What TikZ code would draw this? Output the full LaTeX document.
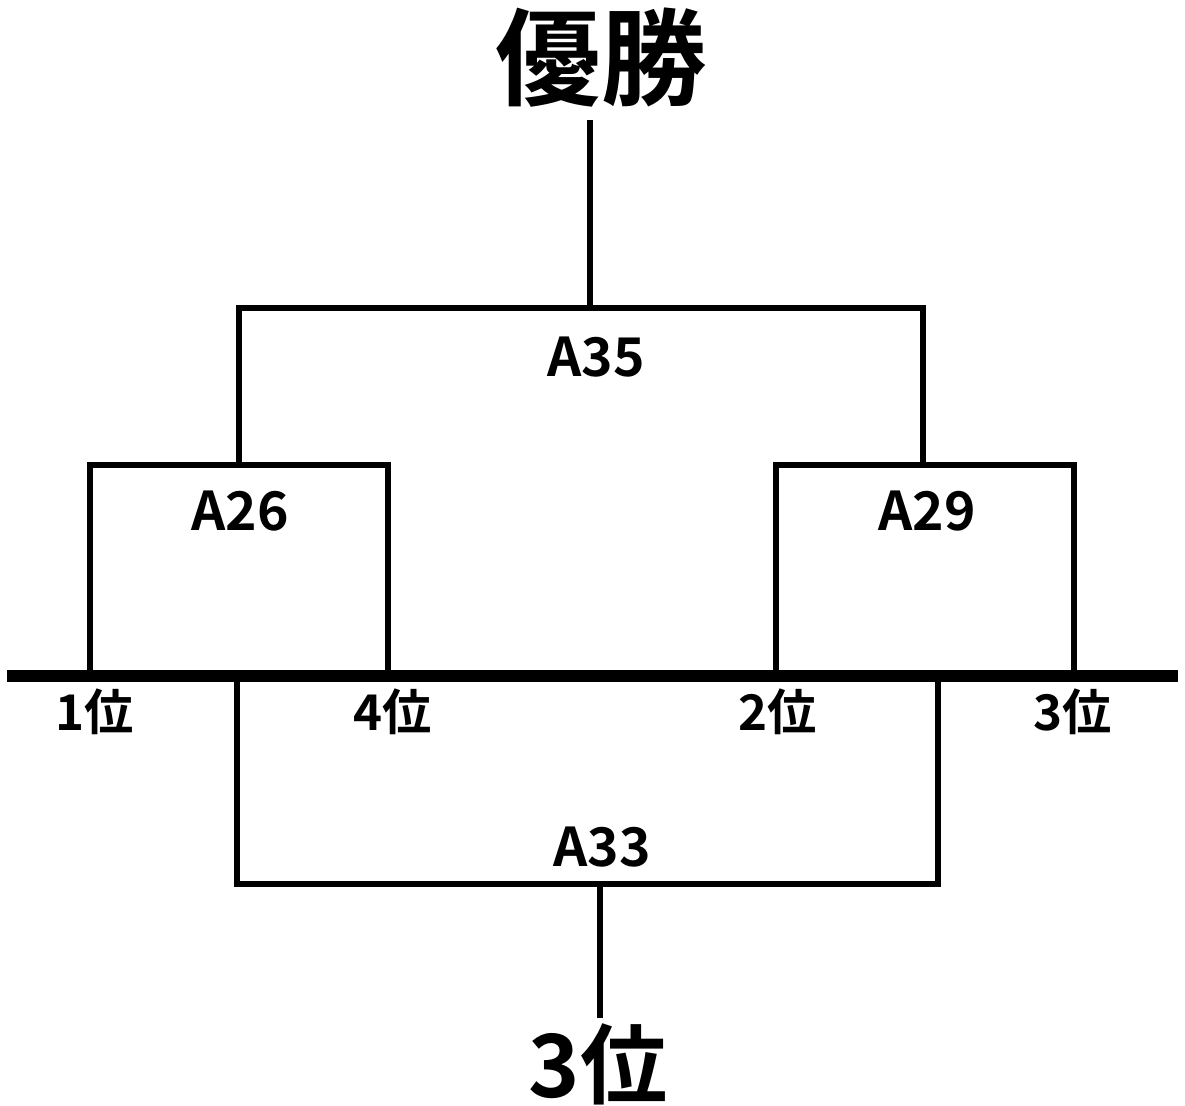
\documentclass[tikz,border=0pt]{standalone}
\usepackage{fontspec}
\setmainfont{Noto Sans CJK JP}[BoldFont={Noto Sans CJK JP Bold}]
\usetikzlibrary{calc}

\begin{document}
\begin{tikzpicture}[x=0.025cm, y=-0.025cm,
	bracket/.style={line width=3.6pt, line join=miter},
	base line/.style={line width=8.5pt},
	match node/.style={font=\fontsize{38}{40}\selectfont\bfseries, inner sep=0pt},
	rank node/.style={font=\fontsize{35}{37}\selectfont\bfseries, inner sep=0pt},
	big node/.style={inner sep=0pt}]
	
	\useasboundingbox (0,0) rectangle (1185,1106);
	
	% baseline with the group ranks
	\coordinate (BaseL) at (7,676);
	\coordinate (BaseR) at (1178,676);
	\draw[base line] (BaseL) -- (BaseR);
	\coordinate (R1) at (90,676);
	\coordinate (R4) at (388,676);
	\coordinate (R2) at (776,676);
	\coordinate (R3) at (1074,676);
	\node[rank node] (Rank1) at (95,712) {1位};
	\node[rank node] (Rank4) at (393,712) {4位};
	\node[rank node] (Rank2) at (778,712) {2位};
	\node[rank node] (Rank3) at (1073,712) {3位};
	
	% semi finals
	\coordinate (A26top) at (239,465);
	\coordinate (A29top) at (923,465);
	\draw[bracket] (R1) |- (A26top) -| (R4);
	\draw[bracket] (R2) |- (A29top) -| (R3);
	\node[match node] (A26) at (240,511) {A26};
	\node[match node] (A29) at (927,511) {A29};
	
	% final
	\coordinate (A35top) at (590,308);
	\coordinate (WinFoot) at (590,120);
	\draw[bracket] (A26top) |- (A35top) -| (A29top);
	\node[match node] (A35) at (596,357) {A35};
	\node[big node, font=\fontsize{75}{78}\selectfont\bfseries] (Win) at (601,58) {優勝};
	\draw[bracket] (A35top) -- (WinFoot);
	
	% third place
	\coordinate (A33L) at (237,680);
	\coordinate (A33R) at (938,680);
	\coordinate (A33bot) at (600,884);
	\coordinate (ThirdTop) at (600,1018);
	\draw[bracket] (A33L) |- (A33bot) -| (A33R);
	\node[match node] (A33) at (602,847) {A33};
	\node[big node, font=\fontsize{62}{64}\selectfont\bfseries] (Third) at (598,1064) {3位};
	\draw[bracket] (A33bot) -- (ThirdTop);
\end{tikzpicture}
\end{document}
